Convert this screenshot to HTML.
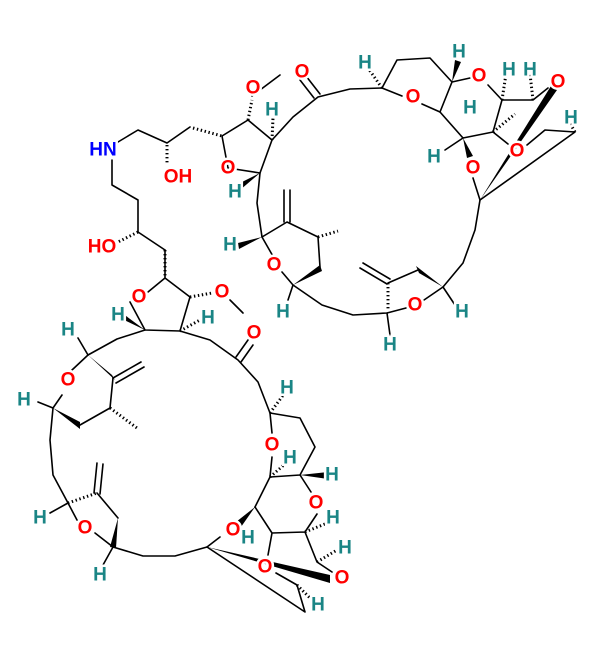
<!DOCTYPE html>
<html><head><meta charset="utf-8"><style>
html,body{margin:0;padding:0;background:#fff}
svg{display:block}
text{font-family:"Liberation Sans",sans-serif;font-weight:bold;font-size:19px;text-anchor:middle;dominant-baseline:central;paint-order:stroke;stroke:#fff;stroke-width:5px}
.o{fill:#f00}.h{fill:#1a8585}.n{fill:#00f}
</style></head><body>
<svg width="600" height="656" viewBox="0 0 600 656" xmlns="http://www.w3.org/2000/svg">
<g stroke="#000" stroke-width="1.6" fill="none" stroke-linecap="round" stroke-linejoin="round">
<path d="M112,160 L112,185 L138,200 L138,232 L165,250"/>
<path d="M118,142 L138,130 L167,143 L190,127"/>
<path d="M222,136 L248,120 L272,140 L260,173 L228,168 Z"/>
<path d="M252,96 L280,75"/>
<path d="M272,140 L293,117 L318,97 L350,89 L382,88"/>
<path d="M314,98 L300,80 M320,94 L306,76"/>
<path d="M260,173 L257,203 L262,237"/>
<path d="M262,237 L287,222 L318,237 L320,267 M262,237 L274,258"/>
<path d="M284,222 L284,190 M290,222 L290,190"/>
<path d="M282,272 L293,285 L322,305 L353,315 L387,313 L406,308"/>
<path d="M424,300 L443,287 L463,263 L475,230 L480,200 L473,178"/>
<path d="M388,283 L418,270"/>
<path d="M387,284 L360,268 M390,279 L363,263"/>
<path d="M387,313 L390,335"/>
<path d="M443,287 L455,305"/>
<path d="M382,88 L402,96 M422,104 L440,112 L463,138 L493,132 L502,100 L533,100 L548,88"/>
<path d="M382,88 L397,60 L430,58 L452,82 L470,78 M452,82 L440,112"/>
<path d="M488,85 L502,100"/>
<path d="M493,132 L508,144 M527,145 L545,130 L575,132 L480,200"/>
<path d="M463,138 L445,150"/>
<path d="M165,250 L165,278 L148,292 M130,302 L145,330 L180,331 L190,297 L165,278"/>
<path d="M230,300 L243,313"/>
<path d="M180,331 L210,340 L238,360 L258,382 L270,413 L272,433 M272,457 L270,477 L255,507"/>
<path d="M236,357 L248,340 M241,362 L253,345"/>
<path d="M270,413 L300,418 L315,447 L300,475 L270,477"/>
<path d="M300,475 L311,492 M317,514 L305,532 L272,533 L255,507 M272,533 L268,555 M305,532 L317,562 L332,572"/>
<path d="M276,573 L297,585 L305,612 L207,547"/>
<path d="M207,547 L220,537 M207,547 L175,556 L143,556 L113,547 L95,533 M77,520 L68,503 L53,475 L50,440 L53,408 L62,395 M72,370 L88,355 L117,339 L145,330"/>
<path d="M80,425 L110,408 L113,378"/>
<path d="M113,378 L141,362 M116,383 L144,367"/>
<path d="M97,493 L118,518"/>
<path d="M94,493 L97,463 M100,494 L103,464"/>
<path d="M113,547 L103,565 M68,503 L50,513 M53,408 L38,402 M88,355 L78,338"/>
<path d="M293,285 L288,300"/>
</g>
<g fill="#000">
<polygon points="260,173 236,185 240,190"/>
<polygon points="262,237 238,243 239,249"/>
<polygon points="293,285 320,265 322,271"/>
<polygon points="443,287 416,266 419,273"/>
<polygon points="452,82 455,60 461,62"/>
<polygon points="463,138 467,158 473,156"/>
<polygon points="480,200 551,86 557,90"/>
<polygon points="145,330 120,318 122,313"/>
<polygon points="255,507 236,522 241,527"/>
<polygon points="300,475 328,472 328,479"/>
<polygon points="207,547 330,575 330,583"/>
<polygon points="118,518 110,547 116,548"/>
<polygon points="53,408 80,422 80,429"/>
<polygon points="88,355 112,375 115,380"/>
</g>
<g stroke="#000" stroke-width="3" stroke-dasharray="1.4,2.6" fill="none">
<path d="M167,145 L167,165"/>
<path d="M193,128 L222,136"/>
<path d="M248,120 L252,100"/>
<path d="M272,140 L273,118"/>
<path d="M318,237 L338,231"/>
<path d="M388,283 L388,311"/>
<path d="M382,88 L368,68"/>
<path d="M502,100 L506,74"/>
<path d="M533,100 L530,74"/>
<path d="M493,132 L515,114"/>
<path d="M575,132 L567,118"/>
<path d="M138,232 L118,242"/>
<path d="M165,250 L165,276"/>
<path d="M190,297 L212,293"/>
<path d="M180,331 L200,320"/>
<path d="M270,413 L284,394"/>
<path d="M270,477 L285,464"/>
<path d="M305,532 L330,522"/>
<path d="M317,562 L337,550"/>
<path d="M297,585 L312,600"/>
<path d="M110,408 L137,428"/>
<path d="M68,503 L97,493"/>
</g>
<text x="103" y="150" class="n">HN</text>
<text x="178" y="177" class="o">OH</text>
<text x="102" y="247" class="o">HO</text>
<text x="228" y="168" class="o">O</text>
<text x="253" y="88" class="o">O</text>
<text x="302" y="72" class="o">O</text>
<text x="274" y="265" class="o">O</text>
<text x="413" y="97" class="o">O</text>
<text x="479" y="76" class="o">O</text>
<text x="558" y="82" class="o">O</text>
<text x="517" y="151" class="o">O</text>
<text x="473" y="168" class="o">O</text>
<text x="415" y="305" class="o">O</text>
<text x="139" y="297" class="o">O</text>
<text x="222" y="292" class="o">O</text>
<text x="254" y="333" class="o">O</text>
<text x="272" y="445" class="o">O</text>
<text x="316" y="503" class="o">O</text>
<text x="233" y="530" class="o">O</text>
<text x="265" y="567" class="o">O</text>
<text x="342" y="578" class="o">O</text>
<text x="85" y="528" class="o">O</text>
<text x="68" y="380" class="o">O</text>
<text x="272" y="110" class="h">H</text>
<text x="235" y="192" class="h">H</text>
<text x="230" y="245" class="h">H</text>
<text x="283" y="312" class="h">H</text>
<text x="390" y="345" class="h">H</text>
<text x="462" y="312" class="h">H</text>
<text x="365" y="63" class="h">H</text>
<text x="459" y="52" class="h">H</text>
<text x="509" y="70" class="h">H</text>
<text x="530" y="70" class="h">H</text>
<text x="571" y="118" class="h">H</text>
<text x="470" y="108" class="h">H</text>
<text x="434" y="157" class="h">H</text>
<text x="118" y="315" class="h">H</text>
<text x="208" y="318" class="h">H</text>
<text x="287" y="388" class="h">H</text>
<text x="290" y="458" class="h">H</text>
<text x="332" y="475" class="h">H</text>
<text x="333" y="518" class="h">H</text>
<text x="345" y="548" class="h">H</text>
<text x="318" y="605" class="h">H</text>
<text x="248" y="538" class="h">H</text>
<text x="68" y="330" class="h">H</text>
<text x="24" y="400" class="h">H</text>
<text x="40" y="518" class="h">H</text>
<text x="100" y="575" class="h">H</text>
</svg>
</body></html>
